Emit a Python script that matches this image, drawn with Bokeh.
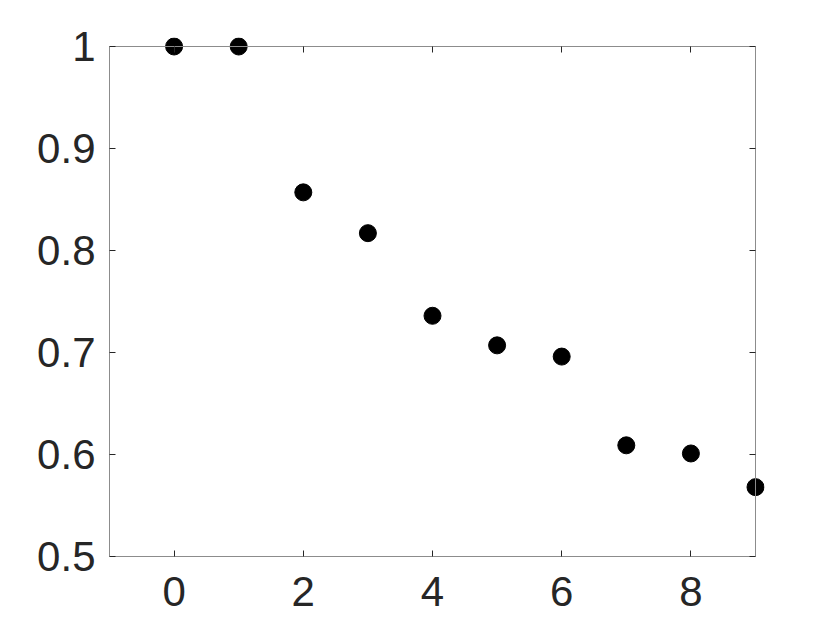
from bokeh.plotting import figure
from bokeh.models import LinearAxis, FixedTicker, CustomJSTickFormatter, Range1d, ColumnDataSource
from bokeh.embed import file_html
from bokeh.resources import INLINE

x_values = [0, 1, 2, 3, 4, 5, 6, 7, 8, 9]
y_values = [1.0, 1.0, 0.857, 0.817, 0.736, 0.707, 0.696, 0.609, 0.601, 0.568]
x_ticks = [0, 2, 4, 6, 8]
y_ticks = [0.5, 0.6, 0.7, 0.8, 0.9, 1.0]
x_lim = (-1, 9)
y_lim = (0.5, 1.0)

# a small pad so that markers on the box edge are drawn whole (not clipped)
x_pad = 9 / 64.6
y_pad = 9 / 1020.0

p = figure(width=835, height=625, output_backend="svg", toolbar_location=None,
           x_range=Range1d(x_lim[0] - x_pad, x_lim[1] + x_pad),
           y_range=Range1d(y_lim[0] - y_pad, y_lim[1] + y_pad),
           x_axis_location=None, y_axis_location=None,
           min_border_left=100, min_border_right=71, min_border_top=37, min_border_bottom=60)
p.grid.visible = False
p.outline_line_color = None
p.background_fill_color = "white"
p.border_fill_color = "white"

fmt = CustomJSTickFormatter(code="return String(Math.round(tick*10)/10);")

def box_axis(ticks, bounds, loc):
    ax = LinearAxis(ticker=FixedTicker(ticks=ticks), formatter=fmt, bounds=bounds, fixed_location=loc)
    ax.axis_line_color = "#8c8c8c"
    ax.axis_line_width = 1
    ax.major_tick_line_color = "#262626"
    ax.major_tick_in = 6
    ax.major_tick_out = 0
    ax.minor_tick_line_color = None
    ax.major_label_text_alpha = 0
    ax.major_label_text_font_size = "1px"
    ax.major_label_standoff = 0
    return ax

def label_axis(ticks, standoff):
    ax = LinearAxis(ticker=FixedTicker(ticks=ticks), formatter=fmt)
    ax.axis_line_color = None
    ax.major_tick_line_color = None
    ax.major_tick_in = 0
    ax.major_tick_out = 0
    ax.minor_tick_line_color = None
    ax.major_label_text_font = "Liberation Sans"
    ax.major_label_text_font_size = "42px"
    ax.major_label_text_color = "#262626"
    ax.major_label_standoff = standoff
    return ax

p.add_layout(label_axis(x_ticks, 11), "below")
p.add_layout(label_axis(y_ticks, 5), "left")
p.add_layout(box_axis(x_ticks, x_lim, y_lim[0]), "below")
p.add_layout(box_axis(y_ticks, y_lim, x_lim[0]), "left")
p.add_layout(box_axis(x_ticks, x_lim, y_lim[1]), "above")
p.add_layout(box_axis(y_ticks, y_lim, x_lim[1]), "right")

src = ColumnDataSource(dict(x=x_values, y=y_values))
p.scatter("x", "y", source=src, size=17, fill_color="black", line_color="black")

open("out.html", "w").write(file_html(p, INLINE))
